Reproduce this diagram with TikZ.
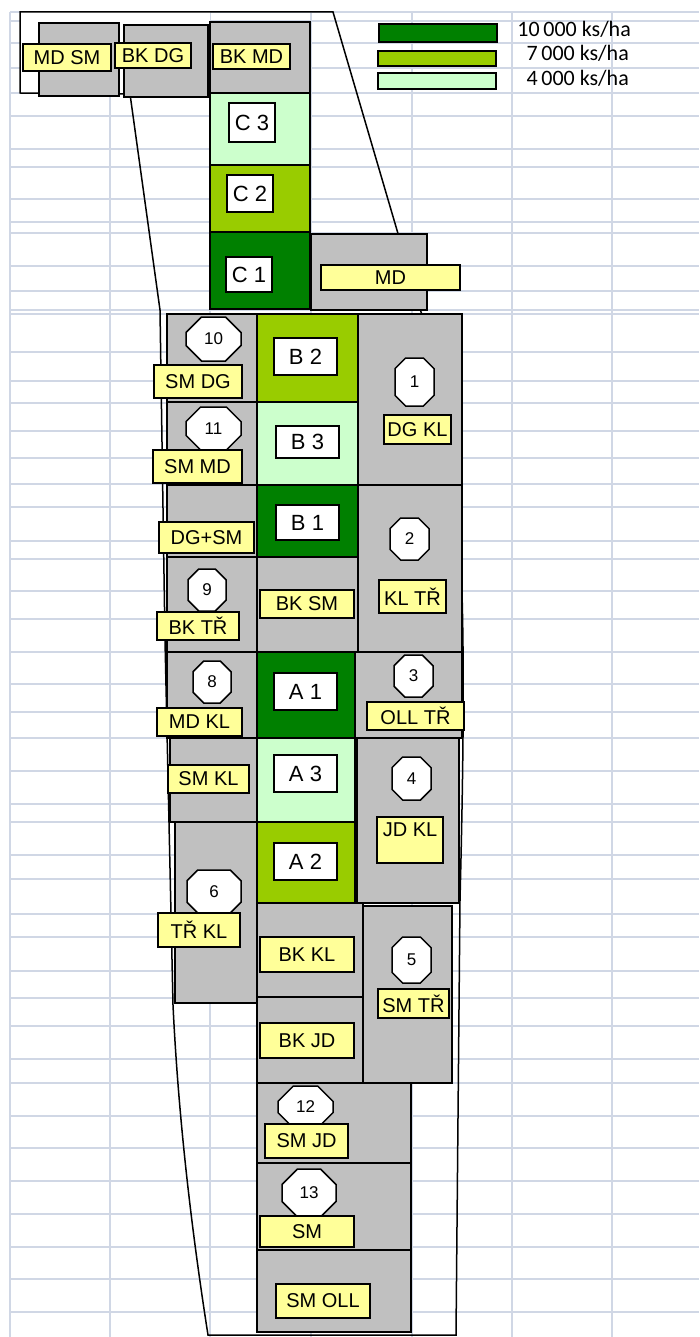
\documentclass[tikz,border=0pt]{standalone}
\usepackage{fontspec}
\setmainfont{Liberation Sans}
\newfontfamily\carlito{Carlito}
\usetikzlibrary{shapes.misc}
\definecolor{gris}{HTML}{C0C0C0}
\definecolor{jaune}{HTML}{FFFF99}
\definecolor{vertfonce}{HTML}{008000}
\definecolor{vertmoyen}{HTML}{99CC00}
\definecolor{vertclair}{HTML}{CCFFCC}
\definecolor{grille}{HTML}{D0D7E5}
\tikzset{
  grillage/.style={line width=1.3pt, color=grille},
  parcelle/.style={draw=black, line width=2pt},
  plaque/.style={rectangle, draw=black, line width=2pt, fill=jaune,
    inner sep=0pt, font=\fontsize{20}{20}\selectfont},
  code/.style={rectangle, draw=black, line width=2pt, fill=white,
    inner sep=0pt, font=\fontsize{22}{22}\selectfont},
  numero/.style={chamfered rectangle, chamfered rectangle sep=11pt,
    draw=black, line width=1.5pt, fill=white, inner sep=0pt,
    font=\fontsize{17}{17}\selectfont},
  contour/.style={draw=black, line width=1.5pt},
  barre/.style={rectangle, draw=black, line width=2pt, inner sep=0pt,
    minimum width=118pt, minimum height=16pt},
  densite/.style={font=\carlito\fontsize{22}{22}\selectfont,
    anchor=base east, inner sep=0pt}
}

\begin{document}
\begin{tikzpicture}[x=1pt, y=-1pt]
    \useasboundingbox (0,0) rectangle (699,1337);

    % Grille du tableur
    \foreach \y in {12,21,43,68,93,116,149,167,199,222,233,266,291,310,314,352,381,403,
                    431,458,484,507,541,559,591,619,652,684,712,738,771,804,822,855,879,
                    914,937,971,998,1026,1059,1083,1116,1148,1181,1214,1247,1279,1312}
      \draw[grillage] (10,\y) -- (699,\y);
    \foreach \x in {10,110,210,311,412,512,612}
      \draw[grillage] (\x,12) -- (\x,1337);
    \fill[white] (20,12) rectangle (210,93);

    % Limite de la zone
    \draw[contour] (20,93) -- (20,12) -- (333,12) -- (421,312)
      .. controls (466,420) and (467,620) .. (460,900) -- (456,1335) -- (208,1335)
      .. controls (190,1220) and (178,1110) .. (173,1005) -- (165,640) -- (160,310)
      -- (130,94) -- cycle;

    % Parcelles
    \foreach \a/\b/\c/\d/\couleur in {
        39/23/119/96/gris, 124/25/208/97/gris, 210/22/310/93/gris,
        210/93/310/165/vertclair, 210/165/310/232/vertmoyen, 210/232/310/309/vertfonce,
        311/234/427/310/gris,
        167/314/257/402/gris, 167/402/257/485/gris, 167/485/257/557/gris,
        167/557/257/652/gris, 257/314/358/402/vertmoyen, 257/402/358/485/vertclair,
        257/485/358/557/vertfonce, 257/557/358/652/gris, 358/314/462/485/gris,
        358/485/462/652/gris,
        167/652/257/738/gris, 257/652/355/738/vertfonce, 355/652/462/738/gris,
        170/738/257/822/gris, 257/738/355/822/vertclair, 357/738/459/903/gris,
        175/822/257/1003/gris, 257/822/355/903/vertmoyen, 257/903/363/997/gris,
        363/906/452/1083/gris, 257/997/363/1083/gris, 257/1083/411/1163/gris,
        257/1163/411/1250/gris, 257/1250/411/1332/gris}
      \draw[parcelle, fill=\couleur] (\a,\b) rectangle (\c,\d);

    % Variantes de densite
    \foreach \id/\x/\y/\w/\h/\txt in {
        c3/252/122.5/46/39/C 3, c2/250/193.5/46/37/C 2, c1/249/274.5/46/35/C 1,
        b2/305.5/356.5/63/37/B 2, b3/307.5/442/63/32/B 3, b1/307.5/522.5/63/35/B 1,
        a1/305.5/691.5/63/37/A 1, a3/305.5/773.5/63/37/A 3, a2/305.5/861.5/63/37/A 2}
      \node[code, minimum width=\w, minimum height=\h] (\id) at (\x,\y) {\txt};

    % Numeros des parcelles
    \foreach \n/\x/\y/\w/\h in {
        10/213.5/339/55/44, 11/213.5/428.5/55/43, 9/207/590/38/42,
        1/414.5/382/39/48, 2/409.5/539/39/42, 8/212/682/38/42,
        3/413.5/676/39/42, 4/411.5/778.5/39/43, 6/214/891.5/54/43,
        5/411.5/960/39/46, 12/305.5/1107/55/42, 13/309/1193/54/48}
      \node[numero, minimum width=\w, minimum height=\h] (n\n) at (\x,\y) {\n};

    % Plaques des essences
    \foreach \id/\x/\y/\w/\h/\txt in {
        mdsm/67/57.5/88/27/MD SM, bkdg/153/55.5/76/25/BK DG, bkmd/251.5/56.5/77/25/BK MD,
        md/390.5/277.5/139/25/MD, smdg/198/381.5/88/33/SM DG, smmd/197.5/466.5/89/33/SM MD,
        dgsm/206.5/537.5/95/31/DG+SM, bktr/198/626/82/28/BK TŘ, bksm/307/604/94/28/BK SM,
        dgkl/417.5/429.5/67/29/DG KL, kltr/412.5/596.5/67/33/KL TŘ, mdkl/199.5/722/85/28/MD KL,
        olltr/415.5/716/97/28/OLL TŘ, smkl/208.5/779/81/28/SM KL, trkl/199/930/82/34/TŘ KL,
        bkkl/307/954.5/94/35/BK KL, smtr/413.5/1003.5/71/29/SM TŘ, bkjd/307/1040.5/94/35/BK JD,
        smjd/306.5/1141/83/34/SM JD, sm/307/1231.5/94/31/SM, smoll/323/1301/94/34/SM OLL}
      \node[plaque, minimum width=\w, minimum height=\h] (\id) at (\x,\y) {\txt};
    \node[plaque, minimum width=66, minimum height=46, align=center] (jdkl) at (410,840)
      {JD KL\\ \mbox{}};

    % Legende
    \node[barre, fill=vertfonce, minimum height=18] (l10000) at (438,33) {};
    \node[barre, fill=vertmoyen, minimum height=15] (l7000) at (437,58.5) {};
    \node[barre, fill=vertclair] (l4000) at (437,81) {};
    \node[densite] (t10000) at (631,37) {10\,000 ks/ha};
    \node[densite] (t7000) at (629,61) {7\,000 ks/ha};
    \node[densite] (t4000) at (629,86) {4\,000 ks/ha};
\end{tikzpicture}
\end{document}
